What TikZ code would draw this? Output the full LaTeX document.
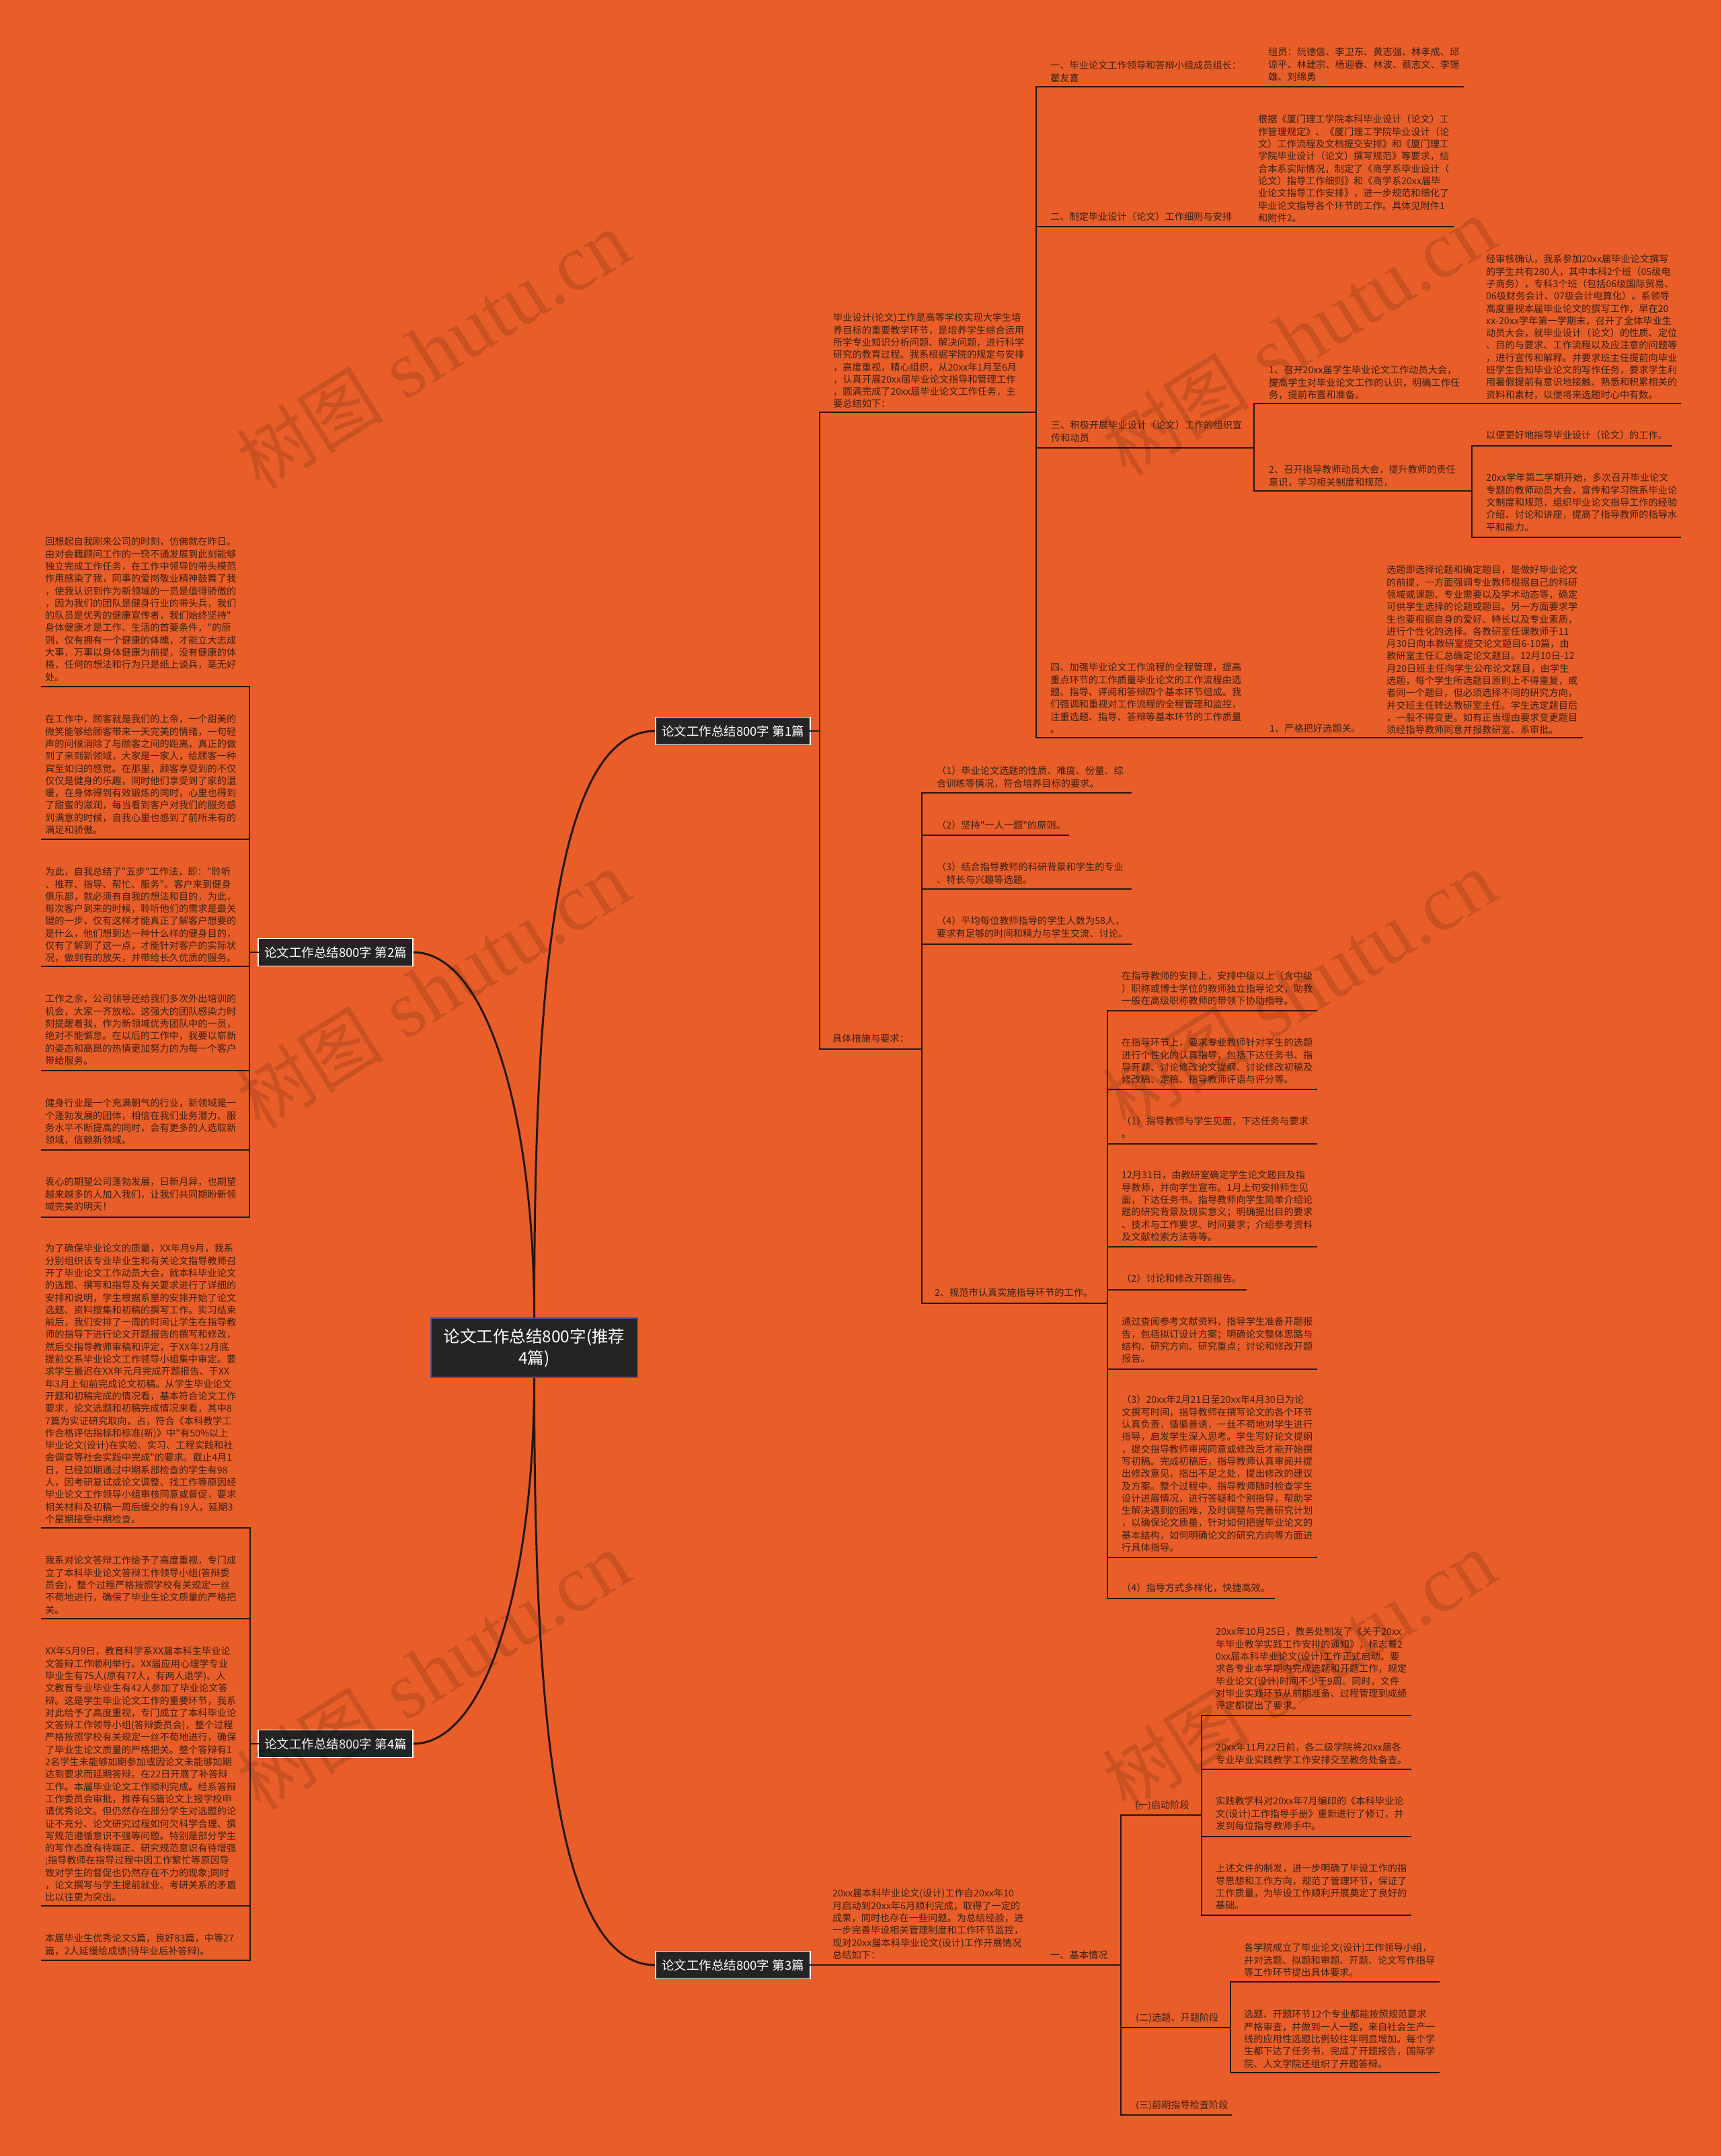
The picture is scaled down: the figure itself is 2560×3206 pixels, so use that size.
\documentclass[tikz,border=0pt]{standalone}
\usepackage{fontspec}
\newfontfamily\cjk{Noto Sans CJK SC}
\newfontfamily\wmlat{Liberation Serif}
\definecolor{bg}{RGB}{233,94,40}
\definecolor{lc}{RGB}{38,22,16}
\definecolor{tc}{RGB}{58,32,22}
\definecolor{boxc}{RGB}{36,36,36}
\definecolor{rootb}{RGB}{70,80,160}
\newcommand\TX[4]{\node[txt] (#1) at (#2,#3-6.4) {#4};}
\newcommand\UL[3]{\draw[ln] (#1,#3) -- (#2,#3);}
\newcommand\VL[3]{\draw[ln] (#1,#2) -- (#1,#3);}
\begin{document}
\begin{tikzpicture}[x=1pt,y=-1pt,
  txt/.style={anchor=north west, inner sep=0pt, align=left, text=tc, font=\cjk\fontsize{14.2}{18.3}\selectfont},
  ln/.style={draw=lc, line width=2.4pt, line cap=rect},
  conn/.style={draw=lc, line width=3pt},
  lbl/.style={fill=boxc, draw=white, line width=1.2pt, text=white, font=\cjk\fontsize{18.5}{22}\selectfont, minimum width=230pt, minimum height=41pt, inner sep=0pt},
  rootnode/.style={fill=boxc, draw=rootb, line width=1.5pt, text=white, font=\cjk\fontsize{24.5}{32}\selectfont, align=center, minimum width=307pt, minimum height=88pt, inner sep=0pt},
  wm/.style={text=black, text opacity=0.13, rotate=32, inner sep=0pt}]
\useasboundingbox (0,0) rectangle (2560,3206);
\fill[bg] (0,0) rectangle (2560,3206);

% ---------- centre and main branches ----------
\node[rootnode] (root) at (794.5,2004) {论文工作总结800字(推荐\\4篇)};
\node[lbl] (b1) at (1090,1087) {论文工作总结800字 第1篇};
\node[lbl] (b2) at (499,1416) {论文工作总结800字 第2篇};
\node[lbl] (b4) at (499,2593) {论文工作总结800字 第4篇};
\node[lbl] (b3) at (1090,2922) {论文工作总结800字 第3篇};
\draw[conn] (root.north) .. controls +(0,-460) and +(-155,0) .. (b1.west);
\draw[conn] (root.north) .. controls +(0,-300) and +(110,0) .. (b2.east);
\draw[conn] (root.south) .. controls +(0,300) and +(110,0) .. (b4.east);
\draw[conn] (root.south) .. controls +(0,460) and +(-155,0) .. (b3.west);

\coordinate (j1) at (1219,1087);
\coordinate (j2) at (371,1416);
\coordinate (j4) at (372,2593);
\coordinate (j3) at (1667,2922);
\draw[ln] (b1.east) -- (j1);
\draw[ln] (b2.west) -- (j2);
\draw[ln] (b4.west) -- (j4);
\draw[ln] (b3.east) -- (j3);

% ---------- branch 1 ----------
\VL{1219}{613}{1560}
\TX{r0}{1239}{472}{毕业设计(论文)工作是高等学校实现大学生培\\养目标的重要教学环节，是培养学生综合运用\\所学专业知识分析问题、解决问题，进行科学\\研究的教育过程。我系根据学院的规定与安排\\，高度重视，精心组织，从20xx年1月至6月\\，认真开展20xx届毕业论文指导和管理工作\\，圆满完成了20xx届毕业论文工作任务，主\\要总结如下：}
\UL{1219}{1541}{613}
\VL{1541}{129}{1097}

\TX{r1}{1562}{97}{一、毕业论文工作领导和答辩小组成员组长：\\瞿友喜}
\TX{r1a}{1886}{77}{组员：阮德信、李卫东、黄志强、林孝成、邱\\谅平、林建宗、杨迎春、林波、蔡志文、李锡\\雄、刘绵勇}
\UL{1541}{2176}{129}

\TX{r2}{1562}{322}{二、制定毕业设计（论文）工作细则与安排}
\TX{r2a}{1871}{177}{根据《厦门理工学院本科毕业设计（论文）工\\作管理规定》、《厦门理工学院毕业设计（论\\文）工作流程及文档提交安排》和《厦门理工\\学院毕业设计（论文）撰写规范》等要求，结\\合本系实际情况，制定了《商学系毕业设计（\\论文）指导工作细则》和《商学系20xx届毕\\业论文指导工作安排》，进一步规范和细化了\\毕业论文指导各个环节的工作。具体见附件1\\和附件2。}
\UL{1541}{2161}{337}

\TX{r3}{1563}{632}{三、积极开展毕业设计（论文）工作的组织宣\\传和动员}
\UL{1541}{1865}{666}
\VL{1865}{600}{730}
\TX{r31}{1887}{550}{1、召开20xx届学生毕业论文工作动员大会，\\提高学生对毕业论文工作的认识，明确工作任\\务，提前布置和准备。}
\TX{r31a}{2210}{385}{经审核确认，我系参加20xx届毕业论文撰写\\的学生共有280人，其中本科2个班（05级电\\子商务），专科3个班（包括06级国际贸易、\\06级财务会计、07级会计电算化）。系领导\\高度重视本届毕业论文的撰写工作，早在20\\xx-20xx学年第一学期末，召开了全体毕业生\\动员大会，就毕业设计（论文）的性质、定位\\、目的与要求、工作流程以及应注意的问题等\\，进行宣传和解释。并要求班主任提前向毕业\\班学生告知毕业论文的写作任务，要求学生利\\用暑假提前有意识地接触、熟悉和积累相关的\\资料和素材，以便将来选题时心中有数。}
\UL{1865}{2499}{600}
\TX{r32}{1887}{698}{2、召开指导教师动员大会，提升教师的责任\\意识，学习相关制度和规范，}
\UL{1865}{2189}{730}
\VL{2189}{663}{799}
\TX{r32a}{2210}{647}{以便更好地指导毕业设计（论文）的工作。}
\UL{2189}{2486}{663}
\TX{r32b}{2210}{710}{20xx学年第二学期开始，多次召开毕业论文\\专题的教师动员大会，宣传和学习院系毕业论\\文制度和规范，组织毕业论文指导工作的经验\\介绍、讨论和讲座，提高了指导教师的指导水\\平和能力。}
\UL{2189}{2499}{799}

\TX{r4}{1562}{992}{四、加强毕业论文工作流程的全程管理，提高\\重点环节的工作质量毕业论文的工作流程由选\\题、指导、评阅和答辩四个基本环节组成。我\\们强调和重视对工作流程的全程管理和监控，\\注重选题、指导、答辩等基本环节的工作质量\\。}
\TX{r41}{1888}{1083}{1、严格把好选题关。}
\TX{r41a}{2062}{847}{选题即选择论题和确定题目，是做好毕业论文\\的前提，一方面强调专业教师根据自己的科研\\领域或课题、专业需要以及学术动态等，确定\\可供学生选择的论题或题目。另一方面要求学\\生也要根据自身的爱好、特长以及专业素质，\\进行个性化的选择。各教研室任课教师于11\\月30日向本教研室提交论文题目6-10篇，由\\教研室主任汇总确定论文题目。12月10日-12\\月20日班主任向学生公布论文题目，由学生\\选题，每个学生所选题目原则上不得重复，或\\者同一个题目，但必须选择不同的研究方向，\\并交班主任转达教研室主任。学生选定题目后\\，一般不得变更。如有正当理由要求变更题目\\须经指导教师同意并报教研室、系审批。}
\UL{1541}{2353}{1097}

\TX{s0}{1238}{1544}{具体措施与要求：}
\UL{1219}{1371}{1560}
\VL{1371}{1179}{1938}
\TX{s1}{1393}{1146}{（1）毕业论文选题的性质、难度、份量、综\\合训练等情况，符合培养目标的要求。}
\UL{1371}{1682}{1179}
\TX{s2}{1393}{1227}{（2）坚持"一人一题"的原则。}
\UL{1371}{1589}{1242}
\TX{s3}{1393}{1289}{（3）结合指导教师的科研背景和学生的专业\\、特长与兴趣等选题。}
\UL{1371}{1682}{1322}
\TX{s4}{1393}{1369}{（4）平均每位教师指导的学生人数为58人，\\要求有足够的时间和精力与学生交流、讨论。}
\UL{1371}{1682}{1404}
\TX{s5}{1390}{1922}{2、规范市认真实施指导环节的工作。}
\UL{1371}{1647}{1938}
\VL{1647}{1503}{2377}
\TX{t1}{1668}{1451}{在指导教师的安排上，安排中级以上（含中级\\）职称或博士学位的教师独立指导论文，助教\\一般在高级职称教师的带领下协助指导。}
\UL{1647}{1958}{1503}
\TX{t2}{1668}{1550}{在指导环节上，要求专业教师针对学生的选题\\进行个性化的认真指导，包括下达任务书、指\\导开题、讨论修改论文提纲、讨论修改初稿及\\修改稿、定稿、指导教师评语与评分等。}
\UL{1647}{1958}{1620}
\TX{t3}{1668}{1667}{（1）指导教师与学生见面，下达任务与要求\\。}
\UL{1647}{1958}{1701}
\TX{t4}{1668}{1747}{12月31日，由教研室确定学生论文题目及指\\导教师，并向学生宣布。1月上旬安排师生见\\面，下达任务书。指导教师向学生简单介绍论\\题的研究背景及现实意义；明确提出目的要求\\、技术与工作要求、时间要求；介绍参考资料\\及文献检索方法等等。}
\UL{1647}{1958}{1854}
\TX{t5}{1668}{1901}{（2）讨论和修改开题报告。}
\UL{1647}{1853}{1918}
\TX{t6}{1668}{1965}{通过查阅参考文献资料，指导学生准备开题报\\告，包括拟订设计方案；明确论文整体思路与\\结构、研究方向、研究重点；讨论和修改开题\\报告。}
\UL{1647}{1958}{2036}
\TX{t7}{1668}{2081}{（3）20xx年2月21日至20xx年4月30日为论\\文撰写时间，指导教师在撰写论文的各个环节\\认真负责，循循善诱，一丝不苟地对学生进行\\指导，启发学生深入思考。学生写好论文提纲\\，提交指导教师审阅同意或修改后才能开始撰\\写初稿。完成初稿后，指导教师认真审阅并提\\出修改意见，指出不足之处，提出修改的建议\\及方案。整个过程中，指导教师随时检查学生\\设计进展情况，进行答疑和个别指导，帮助学\\生解决遇到的困难，及时调整与完善研究计划\\，以确保论文质量，针对如何把握毕业论文的\\基本结构，如何明确论文的研究方向等方面进\\行具体指导。}
\UL{1647}{1958}{2316}
\TX{t8}{1668}{2361}{（4）指导方式多样化，快捷高效。}
\UL{1647}{1895}{2377}

% ---------- branch 3 ----------
\TX{c0}{1238}{2815}{20xx届本科毕业论文(设计)工作自20xx年10\\月启动到20xx年6月顺利完成，取得了一定的\\成果，同时也存在一些问题。为总结经验，进\\一步完善毕设相关管理制度和工作环节监控，\\现对20xx届本科毕业论文(设计)工作开展情况\\总结如下：}
\TX{c1}{1562}{2907}{一、基本情况}
\VL{1667}{2699}{3145}
\TX{c11}{1688}{2684}{(一)启动阶段}
\UL{1667}{1787}{2699}
\VL{1787}{2551}{2848}
\TX{c111}{1808}{2426}{20xx年10月25日，教务处制发了《关于20xx\\年毕业教学实践工作安排的通知》，标志着2\\0xx届本科毕业论文(设计)工作正式启动。要\\求各专业本学期内完成选题和开题工作，规定\\毕业论文(设计)时间不少于9周。同时，文件\\对毕业实践环节从前期准备、过程管理到成绩\\评定都提出了要求。}
\UL{1787}{2098}{2551}
\TX{c112}{1808}{2598}{20xx年11月22日前，各二级学院将20xx届各\\专业毕业实践教学工作安排交至教务处备查。}
\UL{1787}{2098}{2631}
\TX{c113}{1808}{2678}{实践教学科对20xx年7月编印的《本科毕业论\\文(设计)工作指导手册》重新进行了修订，并\\发到每位指导教师手中。}
\UL{1787}{2098}{2731}
\TX{c114}{1808}{2778}{上述文件的制发，进一步明确了毕设工作的指\\导思想和工作方向，规范了管理环节，保证了\\工作质量，为毕设工作顺利开展奠定了良好的\\基础。}
\UL{1787}{2098}{2848}
\TX{c12}{1689}{3000}{(二)选题、开题阶段}
\UL{1667}{1830}{3015}
\VL{1830}{2947}{3082}
\TX{c121}{1850}{2896}{各学院成立了毕业论文(设计)工作领导小组，\\并对选题、拟题和审题、开题、论文写作指导\\等工作环节提出具体要求。}
\UL{1830}{2140}{2947}
\TX{c122}{1850}{2995}{选题、开题环节12个专业都能按照规范要求\\严格审查，并做到一人一题，来自社会生产一\\线的应用性选题比例较往年明显增加。每个学\\生都下达了任务书，完成了开题报告，国际学\\院、人文学院还组织了开题答辩。}
\UL{1830}{2140}{3082}
\TX{c13}{1689}{3130}{(三)前期指导检查阶段}
\UL{1667}{1831}{3145}

% ---------- branch 2 ----------
\VL{371}{1021}{1810}
\TX{l1}{67}{805}{回想起自我刚来公司的时刻，仿佛就在昨日。\\由对会籍顾问工作的一窍不通发展到此刻能够\\独立完成工作任务，在工作中领导的带头模范\\作用感染了我，同事的爱岗敬业精神鼓舞了我\\，使我认识到作为新领域的一员是值得骄傲的\\，因为我们的团队是健身行业的带头兵，我们\\的队员是优秀的健康宣传者，我们始终坚持"\\身体健康才是工作、生活的首要条件，"的原\\则，仅有拥有一个健康的体魄，才能立大志成\\大事，万事以身体健康为前提，没有健康的体\\格，任何的想法和行为只是纸上谈兵，毫无好\\处。}
\UL{62}{371}{1021}
\TX{l2}{67}{1069}{在工作中，顾客就是我们的上帝，一个甜美的\\微笑能够给顾客带来一天完美的情绪，一句轻\\声的问候消除了与顾客之间的距离，真正的做\\到了来到新领域，大家是一家人，给顾客一种\\宾至如归的感觉。在那里，顾客享受到的不仅\\仅仅是健身的乐趣，同时他们享受到了家的温\\暖，在身体得到有效锻炼的同时，心里也得到\\了甜蜜的滋润，每当看到客户对我们的服务感\\到满意的时候，自我心里也感到了前所未有的\\满足和骄傲。}
\UL{62}{371}{1248}
\TX{l3}{67}{1296}{为此，自我总结了"五步"工作法，即："聆听\\、推荐、指导、帮忙、服务"。客户来到健身\\俱乐部，就必须有自我的想法和目的，为此，\\每次客户到来的时候，聆听他们的需求是最关\\键的一步，仅有这样才能真正了解客户想要的\\是什么，他们想到达一种什么样的健身目的，\\仅有了解到了这一点，才能针对客户的实际状\\况，做到有的放矢，并带给长久优质的服务。}
\UL{62}{371}{1437}
\TX{l4}{67}{1485}{工作之余，公司领导还给我们多次外出培训的\\机会，大家一齐放松。这强大的团队感染力时\\刻提醒着我，作为新领域优秀团队中的一员，\\绝对不能懈怠。在以后的工作中，我要以崭新\\的姿态和高昂的热情更加努力的为每一个客户\\带给服务。}
\UL{62}{371}{1592}
\TX{l5}{67}{1640}{健身行业是一个充满朝气的行业，新领域是一\\个蓬勃发展的团体，相信在我们业务潜力、服\\务水平不断提高的同时，会有更多的人选取新\\领域，信赖新领域。}
\UL{62}{371}{1710}
\TX{l6}{67}{1757}{衷心的期望公司蓬勃发展，日新月异，也期望\\越来越多的人加入我们，让我们共同期盼新领\\域完美的明天！}
\UL{62}{371}{1810}

% ---------- branch 4 ----------
\VL{372}{2272}{2915}
\TX{m1}{67}{1856}{为了确保毕业论文的质量，XX年月9月，我系\\分别组织该专业毕业生和有关论文指导教师召\\开了毕业论文工作动员大会，就本科毕业论文\\的选题、撰写和指导及有关要求进行了详细的\\安排和说明，学生根据系里的安排开始了论文\\选题、资料搜集和初稿的撰写工作。实习结束\\前后，我们安排了一周的时间让学生在指导教\\师的指导下进行论文开题报告的撰写和修改，\\然后交指导教师审稿和评定，于XX年12月底\\提前交系毕业论文工作领导小组集中审定。要\\求学生最迟在XX年元月完成开题报告、于XX\\年3月上旬前完成论文初稿。从学生毕业论文\\开题和初稿完成的情况看，基本符合论文工作\\要求，论文选题和初稿完成情况来看，其中8\\7篇为实证研究取向，占，符合《本科教学工\\作合格评估指标和标准(新)》中"有50\%以上\\毕业论文(设计)在实验、实习、工程实践和社\\会调查等社会实践中完成"的要求。截止4月1\\日，已经如期通过中期系部检查的学生有98\\人，因考研复试或论文调整、找工作等原因经\\毕业论文工作领导小组审核同意或督促，要求\\相关材料及初稿一周后缓交的有19人，延期3\\个星期接受中期检查。}
\UL{62}{372}{2272}
\TX{m2}{67}{2320}{我系对论文答辩工作给予了高度重视，专门成\\立了本科毕业论文答辩工作领导小组(答辩委\\员会)，整个过程严格按照学校有关规定一丝\\不苟地进行，确保了毕业生论文质量的严格把\\关。}
\UL{62}{372}{2407}
\TX{m3}{67}{2455}{XX年5月9日，教育科学系XX届本科生毕业论\\文答辩工作顺利举行。XX届应用心理学专业\\毕业生有75人(原有77人，有两人退学)、人\\文教育专业毕业生有42人参加了毕业论文答\\辩。这是学生毕业论文工作的重要环节，我系\\对此给予了高度重视，专门成立了本科毕业论\\文答辩工作领导小组(答辩委员会)，整个过程\\严格按照学校有关规定一丝不苟地进行，确保\\了毕业生论文质量的严格把关。整个答辩有1\\2名学生未能够如期参加或因论文未能够如期\\达到要求而延期答辩。在22日开展了补答辩\\工作。本届毕业论文工作顺利完成。经系答辩\\工作委员会审批，推荐有5篇论文上报学校申\\请优秀论文。但仍然存在部分学生对选题的论\\证不充分、论文研究过程如何欠科学合理、撰\\写规范遵循意识不强等问题。特别是部分学生\\的写作态度有待端正、研究规范意识有待增强\\;指导教师在指导过程中因工作繁忙等原因导\\致对学生的督促也仍然存在不力的现象;同时\\，论文撰写与学生提前就业、考研关系的矛盾\\比以往更为突出。}
\UL{62}{372}{2834}
\TX{m4}{67}{2882}{本届毕业生优秀论文5篇，良好83篇，中等27\\篇，2人延缓给成绩(待毕业后补答辩)。}
\UL{62}{372}{2915}

% ---------- watermarks ----------
\foreach \i/\wx/\wy in {1/644/521, 2/1932/501, 3/644/1472, 4/1932/1472, 5/644/2485, 6/1932/2485}
  \node[wm] (wm\i) at (\wx,\wy) {{\cjk\fontsize{110}{120}\selectfont 树图}\hspace{34pt}{\wmlat\fontsize{120}{130}\selectfont shutu.cn}};
\end{tikzpicture}
\end{document}
